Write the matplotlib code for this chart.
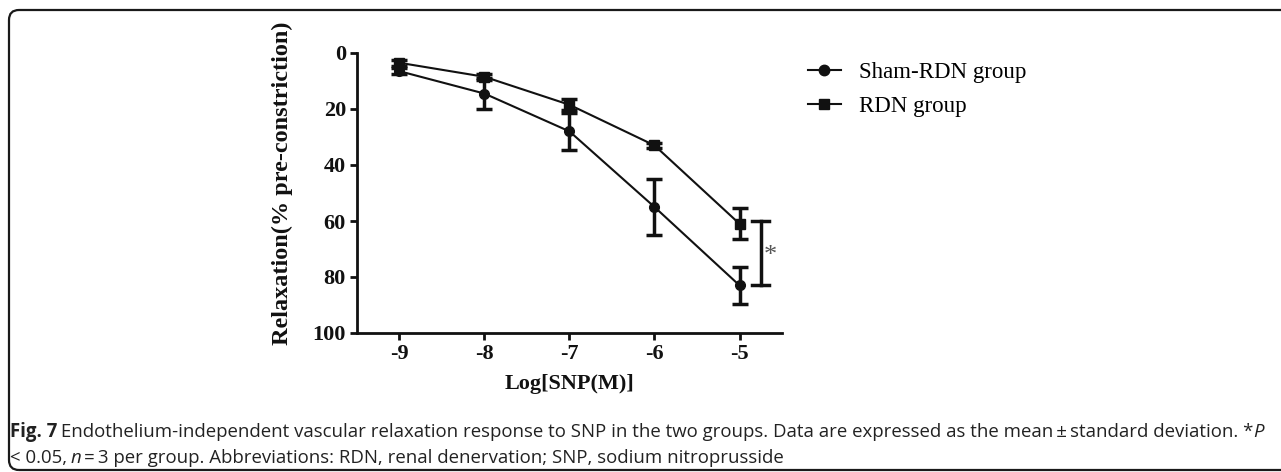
import matplotlib
matplotlib.use("Agg")
import matplotlib.pyplot as plt
from matplotlib.lines import Line2D
from matplotlib.patches import FancyBboxPatch


LOG_SNP = [-9, -8, -7, -6, -5]
SHAM_MEAN = [6.5, 14.5, 28.0, 55.0, 83.0]
SHAM_SD = [1.0, 5.5, 6.5, 10.0, 6.5]
RDN_MEAN = [3.5, 8.5, 18.5, 33.0, 61.0]
RDN_SD = [1.0, 1.0, 2.0, 1.0, 5.5]
SERIES_LABELS = ["Sham-RDN group", "RDN group"]
Y_TICKS = [0, 20, 40, 60, 80, 100]
SIG_X = -4.75
SIG_RANGE = [60.0, 83.0]

CAPTION_LINE1 = [
    ("Fig. 7", "bold"),
    (" Endothelium-independent vascular relaxation response to SNP in the two groups. "
     "Data are expressed as the mean\u2009\u00b1\u2009standard deviation. *", "normal"),
    ("P", "italic"),
]
CAPTION_LINE2 = [
    ("< 0.05, ", "normal"),
    ("n", "italic"),
    ("\u2009=\u20093 per group. Abbreviations: RDN, renal denervation; SNP, sodium nitroprusside", "normal"),
]

W, H = 1281, 472
SERIF = "Liberation Serif"
CAPTION_FONT = ["Open Sans", "DejaVu Sans"]
INK = "#111111"


def caption_text(fig, x_px, y_px, text, style, size):
    weight = "bold" if style == "bold" else "normal"
    fstyle = "italic" if style == "italic" else "normal"
    return fig.text(x_px / W, y_px / H, text, fontsize=size, family=CAPTION_FONT,
                    fontweight=weight, fontstyle=fstyle, color="#222222",
                    va="baseline", ha="left")


def line_width(fig, renderer, segments, size):
    total = 0.0
    for text, style in segments:
        t = caption_text(fig, 0, 0, text, style, size)
        total += t.get_window_extent(renderer).width
        t.remove()
    return total


def draw_caption_line(fig, renderer, x_px, y_px, segments, size):
    x = x_px
    for text, style in segments:
        t = caption_text(fig, x, y_px, text, style, size)
        x = t.get_window_extent(renderer).x1 - 1


def main():
    fig = plt.figure(figsize=(W / 100, H / 100), dpi=100)
    ax = fig.add_axes([357 / W, 139 / H, 425 / W, 280 / H])

    ax.errorbar(LOG_SNP, SHAM_MEAN, yerr=SHAM_SD, fmt="-o", color=INK, lw=1.5, ms=7,
                elinewidth=2.5, capsize=5.5, capthick=2.5, zorder=3)
    ax.errorbar(LOG_SNP, RDN_MEAN, yerr=RDN_SD, fmt="-s", color=INK, lw=1.5, ms=7,
                elinewidth=2.5, capsize=5.5, capthick=2.5, zorder=3)

    # significance bracket at the last dose
    ax.plot([SIG_X, SIG_X], SIG_RANGE, color=INK, lw=2.5, clip_on=False)
    for y in SIG_RANGE:
        ax.plot([SIG_X - 0.1, SIG_X + 0.1], [y, y], color=INK, lw=2.5, clip_on=False)
    ax.text(SIG_X + 0.03, sum(SIG_RANGE) / 2 + 1, "*", family=SERIF, fontsize=19,
            color="#555555", ha="left", va="center")

    ax.set_xlim(-9.5, -4.5)
    ax.set_ylim(100, 0)
    ax.set_xticks(LOG_SNP)
    ax.set_yticks(Y_TICKS)
    ax.set_xticklabels([str(v) for v in LOG_SNP])
    ax.set_yticklabels([str(v) for v in Y_TICKS])
    for lab in ax.get_xticklabels() + ax.get_yticklabels():
        lab.set_family(SERIF)
        lab.set_fontweight("bold")
        lab.set_fontsize(16)
        lab.set_color(INK)
    ax.tick_params(direction="out", length=5, width=2, color=INK, pad=3)

    for side in ("top", "right"):
        ax.spines[side].set_visible(False)
    for side in ("left", "bottom"):
        ax.spines[side].set_linewidth(2)
        ax.spines[side].set_color(INK)

    ax.set_ylabel("Relaxation(% pre-constriction)", family=SERIF, fontweight="bold",
                  fontsize=17.5, color=INK)
    ax.yaxis.set_label_coords(-0.15, 0.536)
    ax.set_xlabel("Log[SNP(M)]", family=SERIF, fontweight="bold", fontsize=16, color=INK)
    ax.xaxis.set_label_coords(0.5, -0.146)

    handles = [
        Line2D([], [], color=INK, marker="o", lw=1.5, ms=7.5),
        Line2D([], [], color=INK, marker="s", lw=1.5, ms=7.5),
    ]
    ax.legend(handles, SERIES_LABELS, loc="upper left", bbox_to_anchor=(787 / W, 431 / H),
              bbox_transform=fig.transFigure, frameon=False, handlelength=1.44,
              handletextpad=0.79, labelspacing=0.6,
              prop={"family": SERIF, "size": 16.5})

    # frame around the figure panel
    frame = FancyBboxPatch((9, 2), W + 20, 460, boxstyle="round,pad=0,rounding_size=10",
                           transform=None, fill=False, lw=1.6, edgecolor="#1a1a1a")
    fig.patches.append(frame)

    fig.canvas.draw()
    renderer = fig.canvas.get_renderer()
    base = 10.0
    size = base * 1258 / line_width(fig, renderer, CAPTION_LINE1, base)
    draw_caption_line(fig, renderer, 10, H - 437, CAPTION_LINE1, size)
    draw_caption_line(fig, renderer, 10, H - 463, CAPTION_LINE2, size)

    fig.savefig("out.png", dpi=100)
    plt.close(fig)


if __name__ == "__main__":
    main()
